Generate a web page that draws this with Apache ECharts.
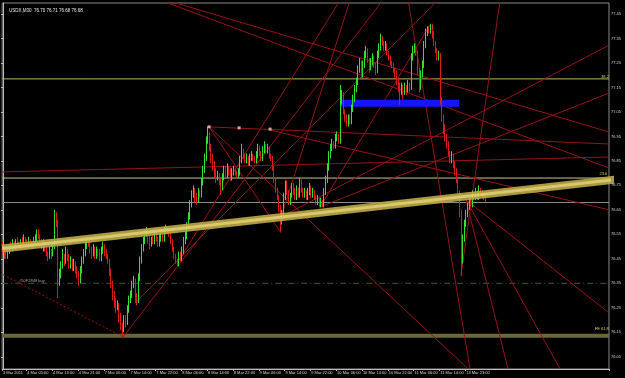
<!DOCTYPE html>
<html><head><meta charset="utf-8">
<script src="https://cdn.jsdelivr.net/npm/echarts@6/dist/echarts.min.js"></script>
<style>html,body{margin:0;padding:0;background:#000}#c{width:625px;height:378px}</style>
</head><body><div id="c"></div>
<script>
// --- Tick labels (time axis) ---
const tickIdx = [0,15,31,47,63,79,95,111,127,143,159,175,191,207,223,239,255,271,287];
const tickLabels = ["3 Mar 2011","4 Mar 05:00","4 Mar 13:00","4 Mar 21:00","7 Mar 06:00","7 Mar 14:00","7 Mar 22:00","8 Mar 06:00","8 Mar 14:00","8 Mar 22:00","9 Mar 06:00","9 Mar 14:00","9 Mar 22:00","10 Mar 06:00","10 Mar 14:00","10 Mar 22:00","11 Mar 06:00","11 Mar 14:00","13 Mar 23:00"];
const priceTicks = [76.05,76.15,76.25,76.35,76.45,76.55,76.65,76.75,76.85,76.95,77.05,77.15,77.25,77.35,77.45];
const totalSlots = 376; // bars + right chart shift

// --- OHLC (USDX M30) ---
const open = [76.50,76.49,76.47,76.46,76.48,76.50,76.49,76.51,76.50,76.52,
76.51,76.50,76.52,76.51,76.53,76.51,76.50,76.52,76.51,76.50,
76.52,76.53,76.55,76.54,76.52,76.50,76.51,76.49,76.47,76.46,
76.48,76.47,76.50,76.62,76.60,76.36,76.38,76.42,76.46,76.44,
76.48,76.45,76.42,76.44,76.41,76.43,76.40,76.38,76.36,76.40,
76.44,76.47,76.50,76.52,76.51,76.48,76.47,76.49,76.46,76.48,
76.47,76.45,76.48,76.50,76.47,76.46,76.44,76.40,76.35,76.30,
76.27,76.25,76.26,76.21,76.18,76.17,76.20,76.19,76.24,76.28,
76.30,76.34,76.36,76.29,76.28,76.37,76.44,76.49,76.52,76.55,
76.56,76.53,76.51,76.53,76.52,76.54,76.53,76.51,76.53,76.55,
76.53,76.56,76.57,76.56,76.55,76.52,76.49,76.46,76.44,76.43,
76.46,76.45,76.48,76.52,76.54,76.58,76.62,76.67,76.71,76.73,
76.70,76.69,76.72,76.71,76.76,76.81,76.86,76.93,76.96,76.90,
76.86,76.83,76.80,76.78,76.79,76.76,76.74,76.78,76.81,76.79,
76.82,76.80,76.78,76.80,76.81,76.80,76.79,76.80,76.85,76.89,
76.87,76.85,76.86,76.84,76.86,76.87,76.86,76.85,76.87,76.90,
76.88,76.86,76.89,76.91,76.89,76.90,76.87,76.86,76.82,76.77,
76.73,76.70,76.66,76.60,76.63,76.70,76.75,76.72,76.68,76.71,
76.74,76.72,76.70,76.73,76.71,76.76,76.73,76.71,76.72,76.70,
76.72,76.74,76.71,76.72,76.70,76.68,76.69,76.67,76.68,76.67,
76.72,76.77,76.82,76.87,76.90,76.92,76.91,76.94,76.95,76.93,
77.10,77.12,77.05,77.03,77.00,77.02,77.01,77.06,77.10,77.14,
77.17,77.22,77.25,77.20,77.24,77.28,77.30,77.26,77.23,77.25,
77.27,77.24,77.22,77.28,77.31,77.35,77.33,77.31,77.32,77.29,
77.27,77.25,77.24,77.22,77.21,77.18,77.15,77.14,77.15,77.13,
77.15,77.14,77.16,77.15,77.27,77.30,77.31,77.29,77.22,77.15,
77.20,77.24,77.32,77.37,77.39,77.38,77.40,77.36,77.33,77.30,
77.27,77.28,77.10,77.03,76.98,76.94,76.92,76.88,76.85,76.87,
76.84,76.80,76.77,76.72,76.64,76.45,76.53,76.59,76.63,76.66,
76.68,76.67,76.71,76.70,76.72,76.70,76.73,76.72,76.71,76.70];
const close = [76.49,76.47,76.46,76.48,76.50,76.49,76.51,76.50,76.52,76.51,
76.50,76.52,76.51,76.53,76.51,76.50,76.52,76.51,76.50,76.52,
76.53,76.55,76.54,76.52,76.50,76.51,76.49,76.47,76.46,76.48,
76.47,76.50,76.62,76.60,76.36,76.38,76.42,76.46,76.44,76.48,
76.45,76.42,76.44,76.41,76.43,76.40,76.38,76.36,76.40,76.44,
76.47,76.50,76.52,76.51,76.48,76.47,76.49,76.46,76.48,76.47,
76.45,76.48,76.50,76.47,76.46,76.44,76.40,76.35,76.30,76.27,
76.25,76.26,76.21,76.18,76.17,76.20,76.19,76.24,76.28,76.30,
76.34,76.36,76.29,76.28,76.37,76.44,76.49,76.52,76.55,76.56,
76.53,76.51,76.53,76.52,76.54,76.53,76.51,76.53,76.55,76.53,
76.56,76.57,76.56,76.55,76.52,76.49,76.46,76.44,76.43,76.46,
76.45,76.48,76.52,76.54,76.58,76.62,76.67,76.71,76.73,76.70,
76.69,76.72,76.71,76.76,76.81,76.86,76.93,76.96,76.90,76.86,
76.83,76.80,76.78,76.79,76.76,76.74,76.78,76.81,76.79,76.82,
76.80,76.78,76.80,76.81,76.80,76.79,76.80,76.85,76.89,76.87,
76.85,76.86,76.84,76.86,76.87,76.86,76.85,76.87,76.90,76.88,
76.86,76.89,76.91,76.89,76.90,76.87,76.86,76.82,76.77,76.73,
76.70,76.66,76.60,76.63,76.70,76.75,76.72,76.68,76.71,76.74,
76.72,76.70,76.73,76.71,76.76,76.73,76.71,76.72,76.70,76.72,
76.74,76.71,76.72,76.70,76.68,76.69,76.67,76.68,76.67,76.72,
76.77,76.82,76.87,76.90,76.92,76.91,76.94,76.95,76.93,77.10,
77.12,77.05,77.03,77.00,77.02,77.01,77.06,77.10,77.14,77.17,
77.22,77.25,77.20,77.24,77.28,77.30,77.26,77.23,77.25,77.27,
77.24,77.22,77.28,77.31,77.35,77.33,77.31,77.32,77.29,77.27,
77.25,77.24,77.22,77.21,77.18,77.15,77.14,77.15,77.13,77.15,
77.14,77.16,77.15,77.27,77.30,77.31,77.29,77.22,77.15,77.20,
77.24,77.32,77.37,77.39,77.38,77.40,77.36,77.33,77.30,77.27,
77.28,77.10,77.03,76.98,76.94,76.92,76.88,76.85,76.87,76.84,
76.80,76.77,76.72,76.64,76.45,76.53,76.59,76.63,76.66,76.68,
76.67,76.71,76.70,76.72,76.70,76.73,76.72,76.71,76.70,76.68];
const high = [76.52,76.50,76.48,76.50,76.51,76.52,76.53,76.52,76.53,76.54,
76.52,76.53,76.54,76.55,76.54,76.53,76.54,76.53,76.52,76.54,
76.55,76.57,76.57,76.55,76.53,76.53,76.52,76.50,76.48,76.50,
76.49,76.52,76.65,76.64,76.61,76.41,76.44,76.49,76.47,76.50,
76.49,76.47,76.46,76.45,76.45,76.44,76.42,76.40,76.42,76.46,
76.49,76.52,76.54,76.53,76.52,76.50,76.51,76.50,76.50,76.49,
76.49,76.50,76.52,76.51,76.49,76.47,76.45,76.41,76.36,76.32,
76.29,76.28,76.27,76.23,76.19,76.22,76.22,76.26,76.30,76.32,
76.36,76.38,76.37,76.31,76.39,76.46,76.51,76.54,76.57,76.58,
76.57,76.55,76.54,76.55,76.56,76.55,76.54,76.55,76.57,76.56,
76.58,76.59,76.58,76.57,76.56,76.53,76.50,76.47,76.45,76.48,
76.48,76.50,76.54,76.56,76.60,76.64,76.69,76.73,76.75,76.74,
76.72,76.74,76.73,76.78,76.83,76.88,76.95,76.99,76.97,76.92,
76.88,76.85,76.82,76.81,76.80,76.78,76.80,76.83,76.83,76.84,
76.83,76.82,76.82,76.83,76.82,76.81,76.82,76.87,76.92,76.90,
76.88,76.88,76.87,76.88,76.89,76.88,76.87,76.89,76.92,76.91,
76.89,76.91,76.93,76.92,76.92,76.91,76.88,76.87,76.83,76.78,
76.74,76.71,76.67,76.65,76.72,76.77,76.77,76.73,76.72,76.76,
76.76,76.74,76.75,76.74,76.78,76.78,76.74,76.74,76.73,76.74,
76.76,76.75,76.74,76.73,76.71,76.71,76.70,76.70,76.69,76.74,
76.79,76.84,76.89,76.92,76.94,76.93,76.96,76.97,76.96,77.16,
77.14,77.13,77.06,77.04,77.04,77.04,77.08,77.12,77.16,77.19,
77.24,77.27,77.26,77.26,77.30,77.32,77.31,77.27,77.27,77.29,
77.28,77.25,77.30,77.33,77.37,77.36,77.34,77.34,77.33,77.30,
77.28,77.26,77.25,77.23,77.22,77.19,77.17,77.17,77.16,77.17,
77.16,77.18,77.17,77.29,77.32,77.33,77.32,77.30,77.23,77.22,
77.26,77.34,77.39,77.40,77.40,77.41,77.41,77.38,77.34,77.31,
77.30,77.29,77.11,77.04,77.00,76.96,76.93,76.89,76.89,76.88,
76.85,76.82,76.78,76.73,76.65,76.55,76.61,76.65,76.68,76.70,
76.70,76.73,76.72,76.74,76.73,76.75,76.74,76.73,76.72,76.71];
const low = [76.47,76.45,76.45,76.45,76.47,76.48,76.48,76.49,76.49,76.50,
76.49,76.49,76.50,76.50,76.50,76.49,76.49,76.50,76.49,76.49,
76.51,76.52,76.53,76.51,76.49,76.48,76.48,76.46,76.44,76.45,
76.45,76.46,76.49,76.58,76.29,76.34,76.37,76.41,76.42,76.43,
76.44,76.41,76.41,76.40,76.40,76.39,76.37,76.34,76.35,76.39,
76.43,76.46,76.49,76.50,76.47,76.45,76.46,76.45,76.45,76.46,
76.44,76.44,76.47,76.46,76.45,76.43,76.38,76.33,76.28,76.25,
76.23,76.24,76.19,76.16,76.13,76.15,76.17,76.18,76.23,76.27,
76.29,76.33,76.27,76.26,76.27,76.36,76.43,76.48,76.51,76.54,
76.51,76.49,76.50,76.51,76.51,76.52,76.50,76.50,76.52,76.52,
76.52,76.55,76.55,76.54,76.51,76.48,76.45,76.43,76.42,76.42,
76.44,76.44,76.47,76.51,76.53,76.57,76.61,76.66,76.70,76.68,
76.67,76.68,76.70,76.70,76.75,76.80,76.85,76.92,76.89,76.84,
76.81,76.78,76.76,76.77,76.75,76.71,76.73,76.77,76.78,76.78,
76.79,76.77,76.77,76.79,76.79,76.78,76.78,76.79,76.84,76.86,
76.84,76.84,76.83,76.83,76.85,76.85,76.84,76.84,76.86,76.87,
76.85,76.85,76.88,76.88,76.88,76.86,76.85,76.81,76.76,76.72,
76.69,76.64,76.56,76.59,76.62,76.69,76.71,76.67,76.67,76.70,
76.71,76.69,76.69,76.70,76.70,76.72,76.70,76.70,76.69,76.69,
76.71,76.70,76.70,76.69,76.67,76.67,76.66,76.66,76.66,76.66,
76.71,76.76,76.81,76.86,76.89,76.90,76.90,76.93,76.92,76.92,
77.08,77.04,77.01,76.99,76.99,77.00,77.00,77.05,77.09,77.13,
77.16,77.21,77.18,77.19,77.23,77.27,77.25,77.21,77.22,77.24,
77.23,77.20,77.21,77.27,77.30,77.32,77.30,77.30,77.28,77.26,
77.24,77.23,77.21,77.19,77.16,77.13,77.08,77.12,77.10,77.12,
77.12,77.13,77.13,77.14,77.26,77.29,77.28,77.20,77.13,77.14,
77.19,77.23,77.31,77.36,77.37,77.37,77.35,77.32,77.29,77.26,
77.26,77.08,77.01,76.96,76.93,76.90,76.87,76.84,76.84,76.82,
76.79,76.76,76.70,76.62,76.38,76.43,76.52,76.58,76.62,76.65,
76.66,76.66,76.69,76.69,76.69,76.69,76.71,76.70,76.69,76.68];

// --- Drawn objects, in (bar index, price) ---
const fib382 = 77.185;
const fib236 = 76.78;
const bidPrice = 76.68;
const buyLevel = 76.35;
const feLevel = 76.136;
const channel = [[-0.5,76.492],[385.4,76.778]];
const zone = [[209,77.085],[282.6,77.085]];
const anchors = [[127.7,76.989],[146.3,76.985],[165.5,76.98]];
const trendLines = [
  [[0.12,76.385],[74.45,76.131]],
  [[74.45,76.131],[235.5,77.507]],
  [[81.9,76.270],[269.6,77.507]],
  [[127.7,76.989],[375.5,76.919]],
  [[127.7,76.989],[288.1,76.001]],
  [[127.7,76.989],[172.3,76.556]],
  [[172.3,76.621],[375.5,77.323]],
  [[196.5,76.662],[375.5,77.127]],
  [[101.1,77.507],[375.5,76.968]],
  [[97.4,77.507],[375.5,76.821]],
  [[-0.5,76.805],[375.5,76.866]],
  [[165.5,76.976],[375.5,76.650]],
  [[286.9,76.691],[375.5,76.229]],
  [[251.0,77.507],[289.4,76.001]],
  [[286.9,76.691],[312.9,76.001]],
  [[286.9,76.691],[345.1,76.001]],
  [[283.8,76.385],[308.0,77.507]],
  [[172.3,76.621],[215.1,77.507]],
  [[108.5,76.438],[208.9,77.507]],
  [[196.5,76.662],[264.6,77.405]]
];

const cats = Array.from({length: totalSlots}, (_, i) => i);
const candleData = open.map((o, i) => [o, close[i], low[i], high[i]]);

const chart = echarts.init(document.getElementById('c'), null, {renderer: 'canvas'});
const lineSeries = trendLines.map((seg, k) => ({
  type: 'line', xAxisIndex: 1, data: seg, symbol: 'none', silent: true, animation: false,
  lineStyle: {color: '#981414', width: 1, type: k === 0 ? [2, 2] : 'solid'}, z: 3
}));
const hLine = (p, color, width, type) => ({
  type: 'line', xAxisIndex: 1, data: [[-0.5, p], [375.5, p]], symbol: 'none', silent: true, animation: false,
  lineStyle: {color, width, type}, z: 2
});
const tag = (x, p, text, color, extra) => ({coord: [x, p], value: text,
  label: Object.assign({show: true, color, fontSize: 4, formatter: text, fontFamily: 'Liberation Sans', offset: [0, -2]}, extra || {})});

chart.setOption({
  backgroundColor: '#000',
  animation: false,
  grid: {left: 2, right: 16, top: 3, bottom: 9, show: true, borderColor: '#8a8a8a', borderWidth: 1, backgroundColor: '#000'},
  title: {text: 'USDX,M30  76.70 76.71 76.68 76.68', left: 4, top: 3,
    textStyle: {color: '#e8e8e8', fontSize: 4.5, fontWeight: 'normal', fontFamily: 'Liberation Sans'}},
  xAxis: [{
    type: 'category', data: cats, boundaryGap: true,
    axisLine: {show: true, lineStyle: {color: '#bbbbbb'}},
    axisTick: {show: true, length: 2, lineStyle: {color: '#bbbbbb'}, interval: (i) => tickIdx.includes(i)},
    axisLabel: {show: true, color: '#d8d8d8', fontSize: 4, margin: 2, align: 'left', fontFamily: 'Liberation Sans',
      interval: (i) => tickIdx.includes(i),
      formatter: (v) => { const k = tickIdx.indexOf(Number(v)); return k >= 0 ? tickLabels[k] : ''; }},
    splitLine: {show: false}
  }, {
    type: 'value', min: -0.5, max: 375.5, show: false
  }],
  yAxis: {
    type: 'value', position: 'right', min: 76.0, max: 77.495, scale: true,
    axisLine: {show: true, lineStyle: {color: '#bbbbbb'}},
    axisTick: {show: true, inside: true, length: 2, customValues: priceTicks, lineStyle: {color: '#bbbbbb'}},
    axisLabel: {show: true, color: '#d8d8d8', fontSize: 4, margin: 2, fontFamily: 'Liberation Sans',
      customValues: priceTicks, formatter: (v) => v.toFixed(2)},
    splitLine: {show: false}
  },
  series: [
    hLine(fib382, '#b8b860', 1, 'solid'),
    hLine(fib236, '#c8c890', 1, 'solid'),
    hLine(bidPrice, '#8c8c8c', 1, 'solid'),
    hLine(buyLevel, '#3c5a3c', 1, [6, 3, 1, 3]),
    hLine(feLevel, '#6a6838', 4, 'solid'),
    ...lineSeries,
    {type: 'line', xAxisIndex: 1, data: zone, symbol: 'none', silent: true, z: 4,
      lineStyle: {color: '#1414ff', width: 7, cap: 'butt'}},
    {type: 'line', xAxisIndex: 1, data: channel, symbol: 'none', silent: true, clip: false, z: 6,
      lineStyle: {color: 'rgba(190,170,70,0.9)', width: 8}},
    {type: 'line', xAxisIndex: 1, data: channel, symbol: 'none', silent: true, clip: false, z: 6,
      lineStyle: {color: 'rgba(235,220,130,0.7)', width: 3}},
    {type: 'scatter', xAxisIndex: 1, data: anchors, symbolSize: 3, symbol: 'rect', silent: true, z: 7,
      itemStyle: {color: '#ffcccc'}},
    {type: 'candlestick', xAxisIndex: 0, data: candleData, barWidth: 1, z: 5,
      itemStyle: {color: '#2ee62e', color0: '#e01818', borderColor: '#2ee62e', borderColor0: '#e01818', borderWidth: 1}},
    {type: 'line', xAxisIndex: 1, data: [[0, feLevel]], symbol: 'none', silent: true, z: 8,
      markPoint: {symbol: 'rect', symbolSize: 0, silent: true,
        data: [
          tag(373, fib382, '38.2', '#d8d860'),
          tag(372, 76.79, '23.6', '#d8d860'),
          tag(371, feLevel + 0.02, 'FE 61.8', '#d8d860'),
          tag(10, buyLevel, '#50F2848 buy', '#a0a0a0', {align: 'left'}),
          tag(379.5, bidPrice, '76.68', '#000', {backgroundColor: '#fff', padding: [0, 1], offset: [0, 0]})
        ]}}
  ]
});
</script></body></html>
